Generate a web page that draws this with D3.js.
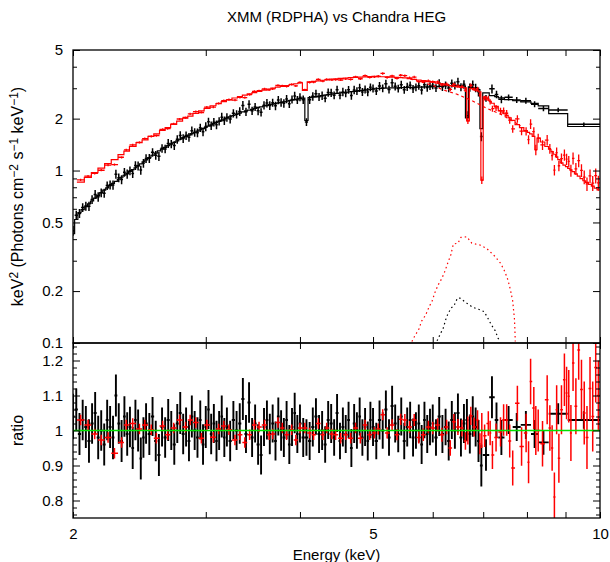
<!DOCTYPE html>
<html>
<head>
<meta charset="utf-8">
<script src="https://cdn.jsdelivr.net/npm/d3@7"></script>
<style>
	body { margin: 0; background: #fff; }
	text { font-family: "Liberation Sans", Arial, sans-serif; }
</style>
</head>
<body>
<svg id="chart" width="610" height="562"></svg>
<script>
// ---- Chandra HEG (black): fine bins 2-7 keV, bin centres in keV ----
const hegE = [
	2.00, 2.02, 2.04, 2.06, 2.08, 2.10, 2.12, 2.14, 2.16, 2.18, 2.20, 2.22, 2.24, 2.26, 2.28, 2.30, 2.32, 2.34, 2.36, 2.38, 2.40, 2.42, 2.44, 2.46, 2.48,
	2.500, 2.525, 2.550, 2.575, 2.600, 2.625, 2.650, 2.675, 2.700, 2.725, 2.750, 2.775, 2.800, 2.825, 2.850, 2.875, 2.900, 2.925, 2.950, 2.975, 3.000, 3.025, 3.050, 3.075, 3.100, 3.125, 3.150, 3.175,
	3.200, 3.232, 3.264, 3.296, 3.328, 3.360, 3.392, 3.424, 3.456, 3.488, 3.520, 3.552, 3.584, 3.616, 3.648, 3.680, 3.712, 3.744, 3.776, 3.808, 3.840, 3.872, 3.904, 3.936, 3.968,
	4.00, 4.04, 4.08, 4.12, 4.16, 4.20, 4.24, 4.28, 4.32, 4.36, 4.40, 4.44, 4.48, 4.52, 4.56, 4.60, 4.64, 4.68, 4.72, 4.76, 4.80, 4.84, 4.88, 4.92, 4.96,
	5.00, 5.05, 5.10, 5.15, 5.20, 5.25, 5.30, 5.35, 5.40, 5.45, 5.50, 5.55, 5.60, 5.65, 5.70, 5.75, 5.80, 5.85, 5.90, 5.95,
	6.00, 6.06, 6.12, 6.18, 6.24, 6.30, 6.36, 6.42, 6.48, 6.54, 6.60, 6.66, 6.72, 6.78, 6.84, 6.90, 6.96
];
const hegRatio = [
	1.04, 1.06, 0.99, 1.03, 1.01, 0.97, 1.02, 1.05, 0.98, 1.00, 0.96, 1.03, 1.01, 0.98, 1.10, 1.02, 0.97, 1.04, 0.99, 1.01, 0.95, 1.03, 1.00, 0.92, 0.98,
	1.02, 0.99, 1.04, 0.97, 0.93, 1.01, 0.98, 1.03, 1.00, 0.96, 1.02, 1.05, 0.99, 1.01, 0.97, 1.04, 1.00, 0.98, 1.03, 0.96, 1.01, 1.06, 0.99, 1.02, 0.97, 1.00, 1.04, 0.98,
	1.01, 0.97, 1.03, 1.00, 1.02, 1.09, 0.99, 1.08, 0.98, 1.02, 0.96, 0.93, 1.01, 1.03, 0.99, 1.02, 0.97, 1.04, 1.00, 0.98, 1.03, 0.96, 1.01, 1.05, 0.99,
	1.02, 0.98, 0.98, 0.97, 1.01, 1.04, 0.99, 1.00, 0.96, 1.03, 1.02, 0.98, 1.05, 0.97, 1.01, 0.99, 1.03, 0.95, 1.02, 1.00, 1.04, 0.98, 1.01, 0.97, 1.03,
	1.01, 0.97, 1.03, 1.00, 1.06, 0.98, 1.07, 1.02, 0.99, 1.04, 0.97, 1.01, 1.03, 0.98, 1.00, 1.02, 0.96, 1.03, 0.99, 1.01,
	1.02, 0.98, 1.04, 0.99, 1.01, 0.97, 1.03, 1.00, 1.05, 0.98, 1.02, 1.03, 0.99, 1.04, 1.01, 0.97, 0.90
];
const hegErr = [
	.065, .060, .060, .058, .060, .062, .058, .060, .062, .058, .060, .058, .060, .062, .060, .058, .060, .058, .062, .058, .060, .058, .060, .060, .058,
	.058, .060, .056, .058, .060, .056, .058, .060, .056, .058, .056, .060, .058, .056, .058, .060, .056, .058, .056, .058, .060, .056, .058, .056, .058, .056, .060, .056,
	.056, .058, .054, .056, .058, .060, .054, .058, .056, .054, .058, .056, .054, .056, .058, .054, .056, .054, .058, .056, .054, .056, .054, .058, .054,
	.054, .056, .052, .054, .056, .052, .054, .056, .052, .054, .056, .052, .054, .052, .056, .054, .052, .054, .056, .052, .054, .052, .054, .056, .052,
	.054, .052, .056, .052, .054, .052, .058, .054, .052, .054, .052, .056, .052, .054, .052, .054, .056, .052, .054, .052,
	.054, .052, .056, .054, .052, .056, .054, .052, .056, .054, .056, .060, .056, .058, .056, .060, .060
];
// HEG wide bins above 7 keV
const hegWideLo = [6.99, 7.13, 7.25, 7.33, 7.47, 7.66, 7.85, 8.10, 8.28, 8.55, 9.06];
const hegWideHi = [7.13, 7.25, 7.33, 7.47, 7.66, 7.85, 8.10, 8.28, 8.55, 9.06, 10.0];
const hegWideRatio = [0.93, 1.095, 1.03, 0.98, 1.03, 1.01, 1.016, 0.99, 0.966, 1.048, 1.03];
const hegWideErr = [0.045, 0.06, 0.05, 0.05, 0.04, 0.04, 0.04, 0.04, 0.035, 0.03, 0.025];
const hegWideModel = [2.82, 2.72, 2.68, 2.64, 2.58, 2.54, 2.50, 2.45, 2.37, 2.14, 1.80];
// HEG model read at points (keV, keV^2 flux)
const hegModelE = [2.00, 2.02, 2.04, 2.10, 2.20, 2.30, 2.43, 2.60, 2.80, 2.95, 3.15, 3.36, 3.60, 3.92, 4.04, 4.08, 4.12, 4.47, 5.11, 5.95, 6.45, 6.60, 6.66, 6.72, 6.90, 6.96, 6.99];
const hegModelV = [0.43, 0.52, 0.57, 0.64, 0.77, 0.89, 1.05, 1.30, 1.55, 1.72, 1.96, 2.19, 2.38, 2.57, 2.63, 1.95, 2.65, 2.80, 3.00, 3.06, 3.12, 3.10, 2.02, 3.06, 2.95, 1.75, 2.85];
// HEG line component (dotted)
const hegLineE = [6.08, 6.13, 6.20, 6.24, 6.29, 6.36, 6.40, 6.47, 6.52, 6.66, 6.78, 6.90, 7.02, 7.09, 7.18, 7.26, 7.33, 7.38];
const hegLineV = [0.103, 0.111, 0.123, 0.136, 0.149, 0.161, 0.164, 0.182, 0.182, 0.170, 0.161, 0.157, 0.152, 0.141, 0.127, 0.118, 0.106, 0.102];

// ---- XMM RDPHA (red) ----
const xmmE = [
	2.047, 2.094, 2.137, 2.18, 2.226, 2.27, 2.32, 2.353, 2.40, 2.45,
	2.49, 2.54, 2.58, 2.63, 2.67, 2.72, 2.77, 2.82, 2.86, 2.91,
	2.96, 3.01, 3.07, 3.12, 3.17, 3.22, 3.28, 3.33, 3.38, 3.43,
	3.48, 3.53, 3.59, 3.64, 3.68, 3.74, 3.79, 3.84, 3.90, 3.95,
	4.00, 4.06, 4.12, 4.17, 4.23, 4.29, 4.34, 4.41, 4.46, 4.53,
	4.60, 4.67, 4.74, 4.81, 4.88, 4.95, 5.02, 5.08, 5.15, 5.22,
	5.30, 5.38, 5.44, 5.51, 5.59, 5.67, 5.75, 5.83, 5.92, 6.00,
	6.09, 6.17, 6.26, 6.33, 6.40, 6.48, 6.56, 6.63, 6.68, 6.74,
	6.81, 6.88, 6.93, 6.97, 7.03, 7.11, 7.15, 7.20, 7.28, 7.38,
	7.45, 7.52, 7.59, 7.66, 7.77, 7.87, 7.98, 8.04, 8.09, 8.17,
	8.22, 8.28, 8.39, 8.51, 8.58, 8.64, 8.70, 8.76, 8.82, 8.89,
	8.97, 9.03, 9.09, 9.15, 9.21, 9.29, 9.37, 9.45, 9.53, 9.61,
	9.70, 9.78, 9.87, 9.95
];
const xmmRatio = [
	1.030, 1.016, 0.990, 0.973, 0.980, 0.935, 0.966, 1.016, 1.020, 1.004,
	1.016, 1.002, 0.978, 1.013, 0.988, 1.007, 1.030, 1.010, 1.030, 1.023,
	0.978, 1.016, 0.981, 1.004, 1.013, 1.002, 0.973, 0.988, 0.966, 0.988,
	1.016, 1.010, 1.016, 0.988, 0.990, 1.023, 1.007, 0.988, 1.002, 0.973,
	1.007, 1.007, 0.993, 0.988, 1.020, 0.988, 1.007, 0.990, 0.988, 0.978,
	0.988, 0.978, 1.007, 0.978, 1.016, 0.988, 0.993, 1.004, 1.045, 0.993,
	1.016, 0.988, 1.032, 1.030, 1.010, 1.030, 0.980, 0.988, 1.010, 1.007,
	1.016, 0.988, 1.010, 0.950, 1.025, 1.010, 1.007, 0.970, 1.000, 1.042,
	1.010, 1.030, 0.962, 1.000, 0.985, 1.020, 0.993, 0.930, 0.980, 0.996,
	1.030, 1.030, 0.970, 0.893, 1.078, 0.954, 0.993, 0.909, 1.140, 1.064,
	1.000, 1.000, 0.962, 1.088, 1.007, 0.950, 0.810, 1.059, 0.921, 1.059,
	1.145, 1.107, 1.098, 0.993, 1.193, 1.069, 1.230, 1.117, 1.050, 0.980,
	1.120, 1.040, 1.180, 1.100
];
const xmmErr = [
	.015, .015, .015, .015, .015, .015, .015, .015, .015, .015,
	.015, .015, .015, .015, .015, .015, .015, .015, .015, .015,
	.015, .015, .015, .015, .015, .015, .015, .015, .015, .015,
	.015, .015, .015, .015, .015, .015, .015, .015, .015, .015,
	.015, .015, .015, .015, .015, .015, .015, .015, .015, .015,
	.015, .015, .015, .015, .015, .015, .016, .016, .016, .016,
	.016, .016, .016, .017, .017, .017, .017, .018, .018, .018,
	.019, .020, .021, .022, .022, .023, .024, .025, .040, .026,
	.027, .028, .030, .050, .032, .035, .035, .040, .040, .042,
	.045, .045, .047, .050, .050, .055, .055, .060, .065, .060,
	.070, .060, .065, .070, .065, .065, .070, .070, .070, .070,
	.075, .075, .075, .080, .080, .080, .085, .085, .090, .090,
	.090, .100, .100, .100
];
const xmmModelE = [2.00, 2.10, 2.20, 2.30, 2.40, 2.50, 2.60, 2.80, 3.00, 3.20, 3.40, 3.70, 4.00, 4.03, 4.06, 4.09, 4.50, 5.00, 5.50, 6.00, 6.40, 6.63, 6.68, 6.72, 6.93, 6.97, 7.01, 7.40, 7.80, 8.17, 8.22, 8.27, 8.90, 9.50, 10.0];
const xmmModelV = [0.80, 0.92, 1.06, 1.20, 1.38, 1.52, 1.66, 1.98, 2.28, 2.55, 2.76, 3.02, 3.22, 3.24, 2.92, 3.26, 3.42, 3.52, 3.45, 3.25, 3.08, 3.02, 1.94, 3.00, 2.86, 0.88, 2.70, 2.20, 1.82, 1.58, 1.32, 1.55, 1.10, 0.88, 0.76];
// XMM continuum without the line (dashed) and line component (dotted)
const xmmContE = [5.60, 6.00, 6.20, 6.45, 6.73, 7.07, 7.42, 7.62, 7.85];
const xmmContV = [3.40, 3.12, 2.93, 2.78, 2.57, 2.30, 2.10, 1.96, 1.82];
const xmmLineE = [5.63, 5.68, 5.75, 5.80, 5.87, 5.93, 5.99, 6.04, 6.10, 6.17, 6.23, 6.28, 6.34, 6.39, 6.48, 6.54, 6.66, 6.76, 6.93, 7.07, 7.16, 7.26, 7.38, 7.46, 7.53, 7.58, 7.62, 7.66, 7.68, 7.70, 7.71, 7.72];
const xmmLineV = [0.102, 0.110, 0.120, 0.134, 0.145, 0.161, 0.176, 0.196, 0.217, 0.237, 0.262, 0.290, 0.324, 0.375, 0.379, 0.410, 0.413, 0.379, 0.370, 0.354, 0.336, 0.317, 0.290, 0.265, 0.240, 0.217, 0.196, 0.175, 0.155, 0.139, 0.122, 0.102];

// ---- axes ticks ----
const energyTicks = [2, 3, 4, 5, 6, 7, 8, 9, 10];
const energyLabels = [2, 5, 10];
const fluxMajor = [0.1, 0.2, 0.5, 1, 2, 5];
const fluxMinor = [0.3, 0.4, 0.6, 0.7, 0.8, 0.9, 3, 4];
const ratioMajor = [0.8, 0.9, 1, 1.1, 1.2];
const ratioMinor = [0.76, 0.78, 0.82, 0.84, 0.86, 0.88, 0.92, 0.94, 0.96, 0.98, 1.02, 1.04, 1.06, 1.08, 1.12, 1.14, 1.16, 1.18, 1.22, 1.24];

const RED = "#ff0000";
const GREEN = "#00e000";

const svg = d3.select("#chart");
const plotLeft = 73, plotRight = 600, plotTop = 50, plotMid = 343, plotBottom = 518;

const x = d3.scaleLog().domain([2, 10]).range([plotLeft, plotRight]);
const yFlux = d3.scaleLog().domain([0.1, 5]).range([plotMid, plotTop]);
const yRatio = d3.scaleLinear().domain([0.75, 1.25]).range([plotBottom, plotMid]);

// models: piecewise between the points
const hegModel = d3.scaleLinear().domain(hegModelE).range(hegModelV);
const xmmModel = d3.scaleLinear().domain(xmmModelE).range(xmmModelV);

// bin edges half way (in log) between neighbouring centres
function binEdges(centres) {
	return centres.map((c, i) => {
		const prev = i > 0 ? centres[i - 1] : c * c / centres[i + 1];
		const next = i < centres.length - 1 ? centres[i + 1] : c * c / centres[i - 1];
		return [Math.sqrt(prev * c), Math.sqrt(c * next)];
	});
}

const hegBins = binEdges(hegE).map(([lo, hi], i) => ({
	lo, hi, c: hegE[i], ratio: hegRatio[i], err: hegErr[i], model: hegModel(hegE[i])
})).concat(hegWideLo.map((lo, i) => ({
	lo, hi: hegWideHi[i], c: Math.sqrt(lo * hegWideHi[i]),
	ratio: hegWideRatio[i], err: hegWideErr[i], model: hegWideModel[i]
})));

const xmmBins = binEdges(xmmE).map(([lo, hi], i) => ({
	lo, hi, c: xmmE[i], ratio: xmmRatio[i], err: xmmErr[i], model: xmmModel(xmmE[i])
}));

// clip regions
const defs = svg.append("defs");
defs.append("clipPath").attr("id", "clip-top")
	.append("rect").attr("x", plotLeft).attr("y", plotTop)
	.attr("width", plotRight - plotLeft).attr("height", plotMid - plotTop);
defs.append("clipPath").attr("id", "clip-bottom")
	.append("rect").attr("x", plotLeft).attr("y", plotMid)
	.attr("width", plotRight - plotLeft).attr("height", plotBottom - plotMid);

const topPanel = svg.append("g").attr("clip-path", "url(#clip-top)");
const bottomPanel = svg.append("g").attr("clip-path", "url(#clip-bottom)");

function crossPath(d, y, v, e) {
	return `M${x(d.lo)},${y(v)}H${x(d.hi)}M${x(d.c)},${y(v - e)}V${y(v + e)}`;
}

function drawModel(g, bins, color) {
	const pts = bins.map(d => [d.lo, d.model]);
	const last = bins[bins.length - 1];
	pts.push([last.hi, last.model]);
	g.append("path")
		.attr("d", d3.line().x(d => x(d[0])).y(d => yFlux(d[1])).curve(d3.curveStepAfter)(pts))
		.attr("fill", "none")
		.attr("stroke", color)
		.attr("stroke-width", 1.2);
}

function drawData(g, bins, color, width) {
	g.append("g").selectAll("path")
		.data(bins)
		.join("path")
		.attr("d", d => {
			const v = d.model * d.ratio;
			return crossPath(d, yFlux, v, v * d.err);
		})
		.attr("fill", "none")
		.attr("stroke", color)
		.attr("stroke-width", width);
}

function drawRatio(g, bins, color, width) {
	g.append("g").selectAll("path")
		.data(bins)
		.join("path")
		.attr("d", d => crossPath(d, yRatio, d.ratio, d.err))
		.attr("fill", "none")
		.attr("stroke", color)
		.attr("stroke-width", width);
}

function drawCurve(g, es, vs, color, dash) {
	g.append("path")
		.attr("d", d3.line().x(d => x(d[0])).y(d => yFlux(d[1]))(es.map((e, i) => [e, vs[i]])))
		.attr("fill", "none")
		.attr("stroke", color)
		.attr("stroke-width", 1.2)
		.attr("stroke-dasharray", dash);
}

// top panel
drawModel(topPanel, hegBins, "#000");
drawData(topPanel, hegBins, "#000", 1.5);
drawModel(topPanel, xmmBins, RED);
drawData(topPanel, xmmBins, RED, 1.3);
drawCurve(topPanel, xmmContE, xmmContV, RED, "3,3");
drawCurve(topPanel, xmmLineE, xmmLineV, RED, "1.5,3");
drawCurve(topPanel, hegLineE, hegLineV, "#000", "1.5,3");

// ratio panel
drawRatio(bottomPanel, hegBins, "#000", 1.9);
drawRatio(bottomPanel, xmmBins, RED, 1.5);
bottomPanel.append("line")
	.attr("x1", plotLeft).attr("x2", plotRight)
	.attr("y1", yRatio(1)).attr("y2", yRatio(1))
	.attr("stroke", GREEN)
	.attr("stroke-width", 1.5);

// axes
function addAxis(axisFn, scale, values, size, translate, labels) {
	const axis = axisFn(scale)
		.tickValues(values)
		.tickSize(-size)
		.tickSizeOuter(0)
		.tickPadding(10)
		.tickFormat(d => labels && labels.includes(d) ? String(d) : "");
	const g = svg.append("g")
		.attr("transform", `translate(${translate[0]},${translate[1]})`)
		.call(axis);
	g.select(".domain").remove();
	g.attr("font-size", 15).attr("font-family", "Liberation Sans, Arial, sans-serif");
	g.selectAll("line").attr("stroke", "#000").attr("stroke-width", 1);
	g.selectAll("text").attr("fill", "#000");
	return g;
}

addAxis(d3.axisLeft, yFlux, fluxMajor, 7, [plotLeft, 0], fluxMajor);
addAxis(d3.axisLeft, yFlux, fluxMinor, 4, [plotLeft, 0]);
addAxis(d3.axisRight, yFlux, fluxMajor, 7, [plotRight, 0]);
addAxis(d3.axisRight, yFlux, fluxMinor, 4, [plotRight, 0]);
addAxis(d3.axisTop, x, energyTicks, 6, [0, plotTop]);
addAxis(d3.axisBottom, x, energyTicks, 6, [0, plotMid]);
addAxis(d3.axisTop, x, energyTicks, 6, [0, plotMid]);
addAxis(d3.axisBottom, x, energyTicks, 6, [0, plotBottom], energyLabels);
addAxis(d3.axisLeft, yRatio, ratioMajor, 7, [plotLeft, 0], ratioMajor);
addAxis(d3.axisLeft, yRatio, ratioMinor, 4, [plotLeft, 0]);
addAxis(d3.axisRight, yRatio, ratioMajor, 7, [plotRight, 0]);
addAxis(d3.axisRight, yRatio, ratioMinor, 4, [plotRight, 0]);

// frames
svg.append("rect")
	.attr("x", plotLeft).attr("y", plotTop)
	.attr("width", plotRight - plotLeft).attr("height", plotMid - plotTop)
	.attr("fill", "none").attr("stroke", "#000").attr("stroke-width", 1.3);
svg.append("rect")
	.attr("x", plotLeft).attr("y", plotMid)
	.attr("width", plotRight - plotLeft).attr("height", plotBottom - plotMid)
	.attr("fill", "none").attr("stroke", "#000").attr("stroke-width", 1.3);

// titles
svg.append("text")
	.attr("x", (plotLeft + plotRight) / 2)
	.attr("y", 22)
	.attr("text-anchor", "middle")
	.attr("font-size", 15)
	.text("XMM (RDPHA) vs Chandra HEG");

svg.append("text")
	.attr("x", (plotLeft + plotRight) / 2)
	.attr("y", 560)
	.attr("text-anchor", "middle")
	.attr("font-size", 15)
	.text("Energy (keV)");

const yLabel = svg.append("text")
	.attr("transform", `translate(23,${(plotTop + plotMid) / 2}) rotate(-90)`)
	.attr("text-anchor", "middle")
	.attr("font-size", 16);
[["keV", 0, 16], ["2", -5, 12], [" (Photons cm", 5, 16], ["\u22122", -5, 12], [" s", 5, 16],
	["\u22121", -5, 12], [" keV", 5, 16], ["\u22121", -5, 12], [")", 5, 16]]
	.forEach(([t, dy, size]) => {
		yLabel.append("tspan").attr("dy", dy).attr("font-size", size).text(t);
	});

svg.append("text")
	.attr("transform", `translate(23,${(plotMid + plotBottom) / 2}) rotate(-90)`)
	.attr("text-anchor", "middle")
	.attr("font-size", 16)
	.text("ratio");
</script>
</body>
</html>
